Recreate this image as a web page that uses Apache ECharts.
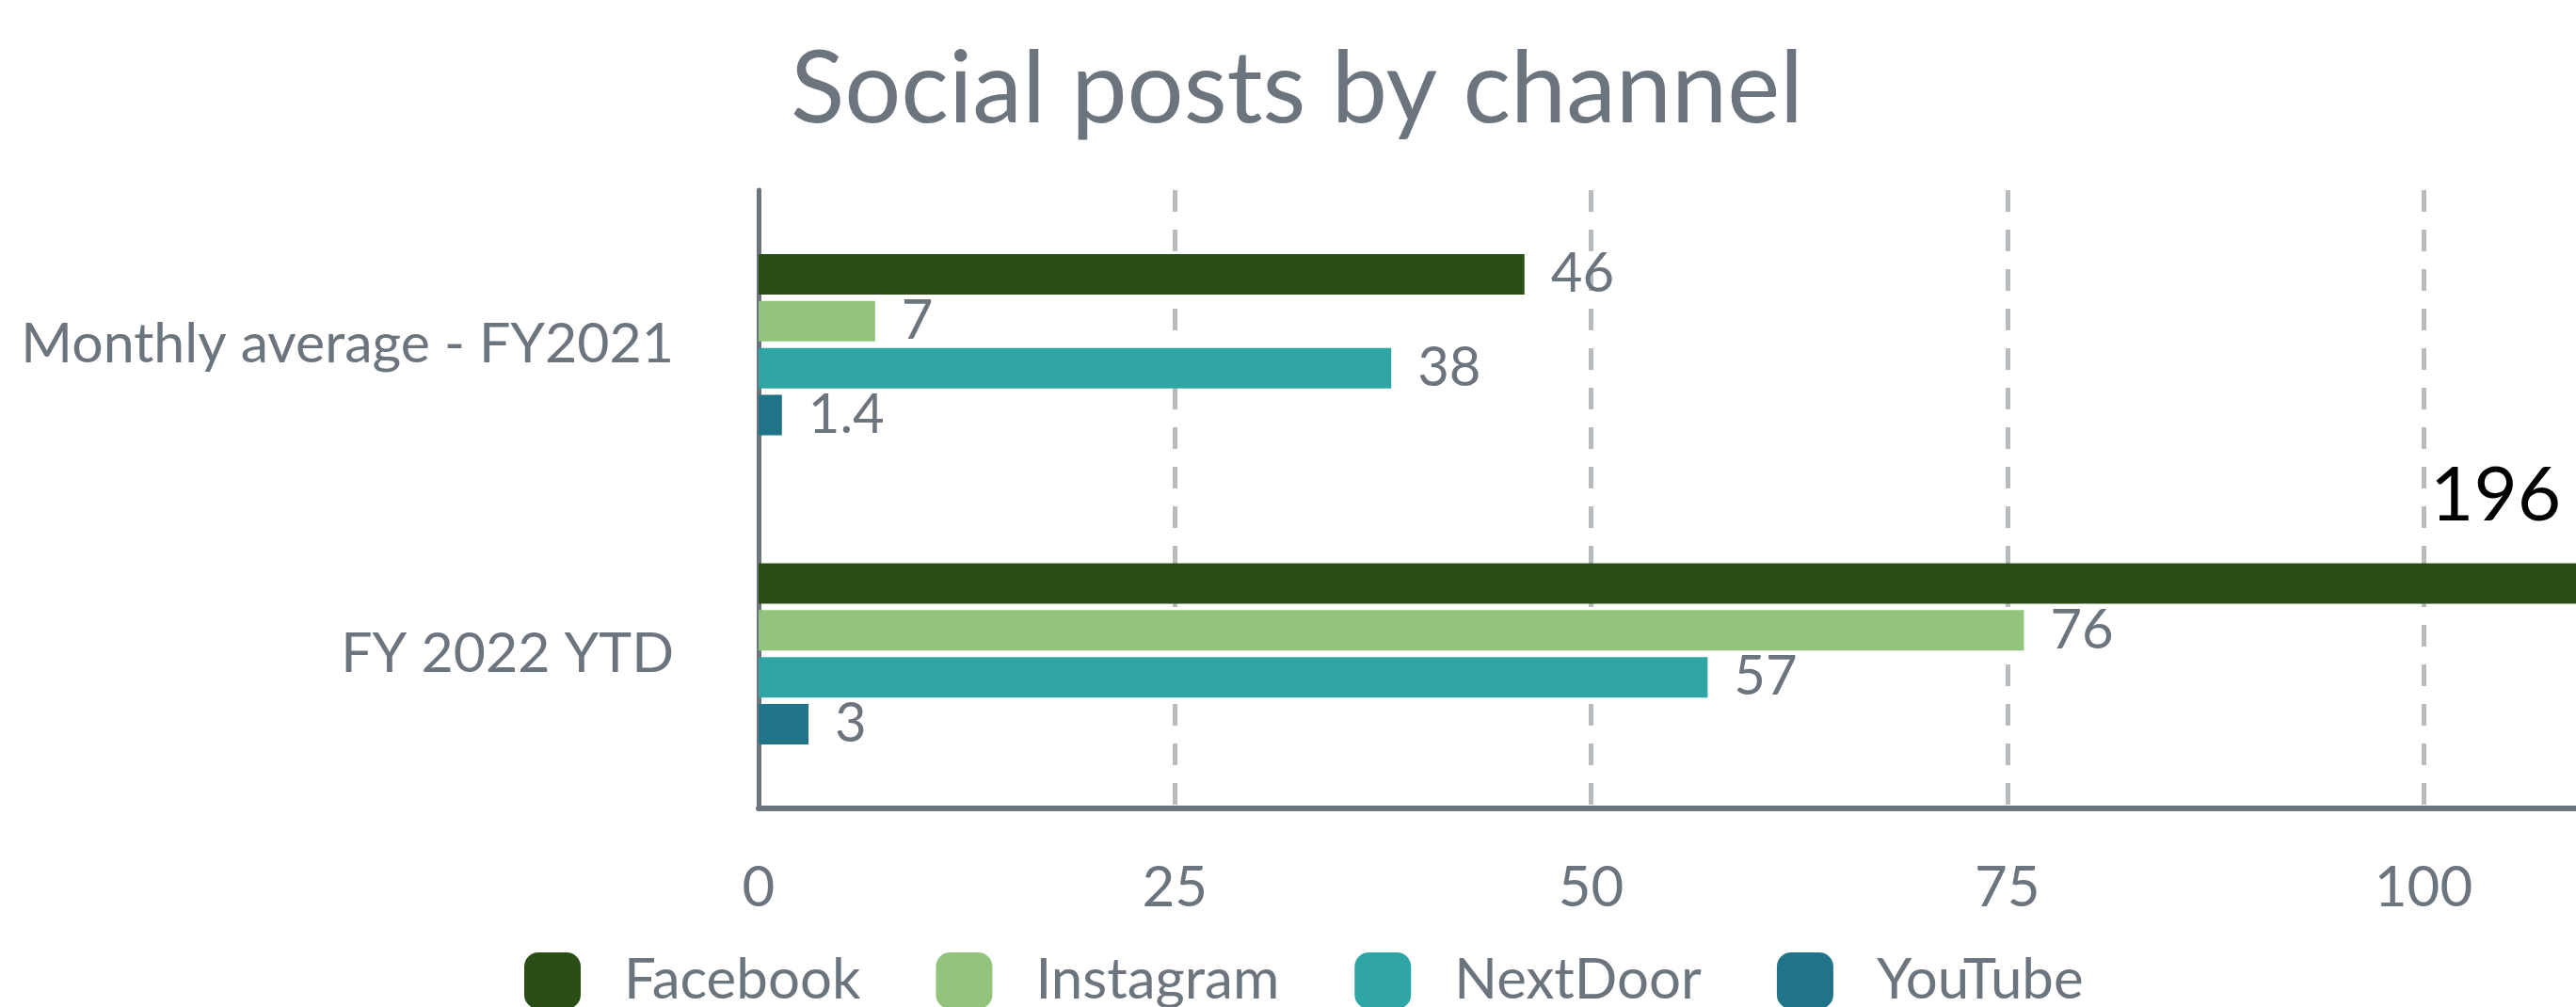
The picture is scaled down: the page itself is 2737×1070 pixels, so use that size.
<!DOCTYPE html>
<html>
<head>
<meta charset="utf-8">
<script src="https://cdn.jsdelivr.net/npm/echarts@6/dist/echarts.min.js"></script>
<style>
html,body{margin:0;padding:0;background:#fff;overflow:hidden;}
#chart{width:2737px;height:1070px;}
</style>
</head>
<body>
<div id="chart"></div>
<script>
const categories = ['Monthly average - FY2021', 'FY 2022 YTD'];
const seriesNames = ['Facebook', 'Instagram', 'NextDoor', 'YouTube'];
const facebook = [46, 196];
const instagram = [7, 76];
const nextdoor = [38, 57];
const youtube = [1.4, 3];
const colors = ['#294f17', '#93c47d', '#30a5a5', '#217487'];

const textGray = '#6c757d';
const font = 'Lato';

function bar(name, values, idx) {
  return {
    name: name,
    type: 'bar',
    barWidth: 43,
    barGap: '16%',
    itemStyle: { color: colors[idx] },
    label: {
      show: true,
      position: 'right',
      distance: 28,
      padding: [10, 0, 0, 0],
      fontFamily: font,
      fontSize: 58,
      color: textGray
    },
    data: values
  };
}

const fbData = facebook.map(function (v, i) {
  if (i === 1) {
    return {
      value: v,
      label: {
        position: [1776, -71],
        padding: 0,
        align: 'left',
        verticalAlign: 'middle',
        color: '#000',
        fontSize: 80
      }
    };
  }
  return v;
});

const chart = echarts.init(document.getElementById('chart'), null, { renderer: 'canvas' });
chart.setOption({
  animation: false,
  backgroundColor: '#fff',
  title: {
    text: 'Social posts by channel',
    left: 835,
    top: 38,
    textStyle: { fontFamily: font, fontWeight: 'normal', fontSize: 106, color: textGray }
  },
  legend: {
    data: seriesNames,
    left: 552,
    top: 1007,
    itemWidth: 60,
    itemHeight: 60,
    itemGap: 80,
    icon: 'roundRect',
    textStyle: { fontFamily: font, fontSize: 60, color: textGray, padding: [0, 0, 0, 41] }
  },
  grid: { left: 806, top: 202, bottom: 211, width: 3538, containLabel: false, outerBoundsMode: 'none' },
  xAxis: {
    type: 'value',
    min: 0,
    max: 200,
    interval: 25,
    axisLine: { show: true, lineStyle: { color: textGray, width: 6 } },
    axisTick: { show: false },
    axisLabel: { fontFamily: font, fontSize: 60, color: textGray, margin: 55 },
    splitLine: { show: true, lineStyle: { color: '#b8bbbe', width: 5, type: [23, 19] } }
  },
  yAxis: {
    type: 'category',
    inverse: true,
    data: categories,
    axisLine: { show: true, lineStyle: { color: textGray, width: 5 } },
    axisTick: { show: false },
    axisLabel: { fontFamily: font, fontSize: 59, color: textGray, margin: 90, padding: [20, 0, 0, 0] },
    splitLine: { show: false }
  },
  series: [
    bar('Facebook', fbData, 0),
    bar('Instagram', instagram, 1),
    bar('NextDoor', nextdoor, 2),
    bar('YouTube', youtube, 3)
  ]
});
</script>
</body>
</html>
